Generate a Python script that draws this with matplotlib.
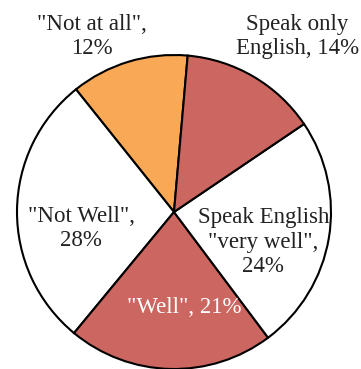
import matplotlib.pyplot as plt
import numpy as np

labels = ['"Not at all",\n12%', '"Not Well",\n28%', '"Well", 21%',
          'Speak English\n"very well",\n24%', 'Speak only\nEnglish, 14%']
shares = [12, 28, 21, 24, 14]
colors = ['#F9A855', '#FFFFFF', '#CC6660', '#FFFFFF', '#CC6660']
text_colors = ['#222222', '#222222', '#FFFFFF', '#222222', '#222222']
# label centres as (radius, angle in degrees) around the pie centre
label_pos = [(1.234, 115), (0.60, -170), (0.61, -83.7), (0.60, -18.6), (1.367, 54.9)]


def main():
    plt.rcParams['font.family'] = 'Liberation Serif'
    fig = plt.figure(figsize=(3.61, 3.69), dpi=100)
    ax = fig.add_axes([17 / 361, 0 / 369, 314 / 361, 314 / 369])
    ax.pie(shares, colors=colors, startangle=85, counterclock=True,
           wedgeprops={'edgecolor': 'black', 'linewidth': 1.5})
    for lab, (r, a), tc in zip(labels, label_pos, text_colors):
        t = np.deg2rad(a)
        ax.text(r * np.cos(t), r * np.sin(t), lab, ha='center', va='center',
                fontsize=16.5, color=tc, linespacing=1.22)
    ax.set_xlim(-1, 1)
    ax.set_ylim(-1, 1)
    ax.set_aspect('equal')
    ax.axis('off')
    fig.savefig('out.png', dpi=100)


if __name__ == "__main__":
    main()
